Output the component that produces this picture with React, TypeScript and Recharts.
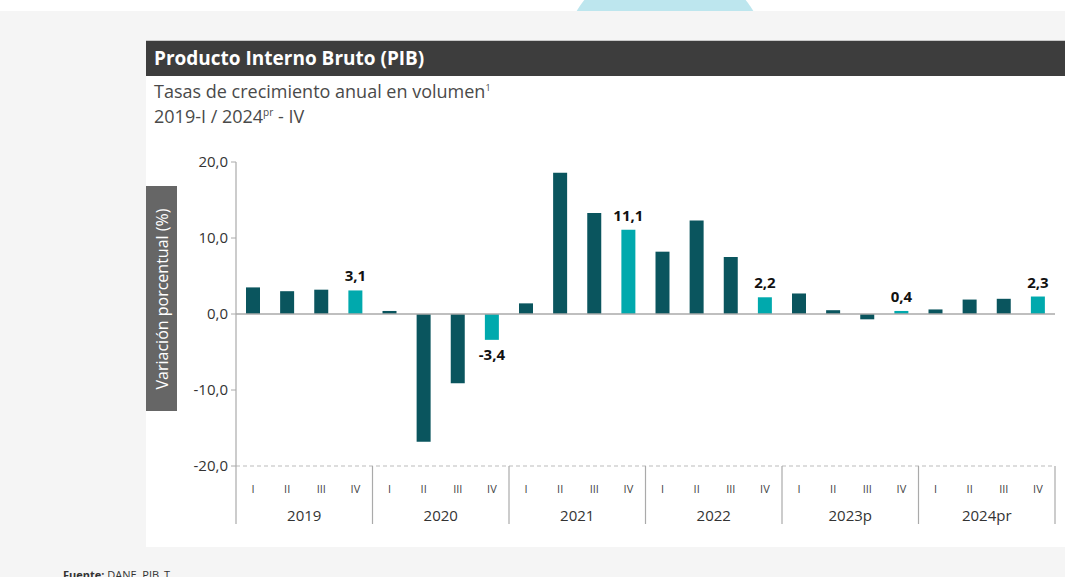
import React from "react";
import {
  BarChart,
  Bar,
  XAxis,
  YAxis,
  Cell,
  LabelList,
  ReferenceLine,
} from "recharts";

// Tasas de crecimiento anual del PIB por trimestre
const years = ["2019", "2020", "2021", "2022", "2023p", "2024pr"];
const quarters = ["I", "II", "III", "IV"];
const growth = [
  3.5, 3.0, 3.2, 3.1,
  0.4, -16.8, -9.1, -3.4,
  1.4, 18.6, 13.3, 11.1,
  8.2, 12.3, 7.5, 2.2,
  2.7, 0.5, -0.7, 0.4,
  0.6, 1.9, 2.0, 2.3,
];
const yTicks = [-20, -10, 0, 10, 20];

const DARK = "#0a555e";
const LIGHT = "#00a9ad";
const FONT = "'Open Sans', 'Noto Sans', sans-serif";

const data = growth.map((v, i) => ({
  key: years[Math.floor(i / 4)] + "-" + quarters[i % 4],
  q: quarters[i % 4],
  value: v,
  label: i % 4 === 3 ? v : null,
}));

const fmt = (v: number) => v.toFixed(1).replace(".", ",");

const supStyle: React.CSSProperties = {
  fontSize: 9,
  lineHeight: 0,
  position: "relative",
  top: -7,
  verticalAlign: "baseline",
};

function QuarterTick(props: any) {
  const { x, y, payload, index } = props;
  const off = payload?.offset ?? 17;
  const top = y - 8;
  const row = data[index];
  return (
    <g>
      <text x={x} y={top + 27} textAnchor="middle" fontSize={11} fill="#444" fontFamily={FONT}>
        {row?.q}
      </text>
      {index % 4 === 0 && (
        <>
          <line x1={x - off} x2={x - off} y1={top} y2={top + 58} stroke="#aaa" strokeWidth={1.2} />
          <text x={x + 3 * off} y={top + 55} textAnchor="middle" fontSize={15} fill="#333" fontFamily={FONT}>
            {years[index / 4]}
          </text>
        </>
      )}
      {index === data.length - 1 && (
        <line x1={x + off} x2={x + off} y1={top} y2={top + 58} stroke="#aaa" strokeWidth={1.2} />
      )}
    </g>
  );
}

function ValueLabel(props: any) {
  const { x, y, width, height, value } = props;
  if (value == null) return null;
  const top = Math.min(y, y + height);
  const bottom = Math.max(y, y + height);
  const ty = value >= 0 ? top - 9 : bottom + 20;
  return (
    <text x={x + width / 2} y={ty} textAnchor="middle" fontSize={15} fontWeight={700} fill="#111" fontFamily={FONT}>
      {fmt(value)}
    </text>
  );
}

export default function App() {
  return (
    <div
      style={{
        position: "absolute",
        left: 0,
        top: 0,
        width: 1065,
        height: 577,
        overflow: "hidden",
        background: "#f5f5f5",
        fontFamily: FONT,
      }}
    >
      <div style={{ position: "absolute", left: 0, top: 0, width: 1065, height: 11, background: "#fff", overflow: "hidden" }}>
        <div
          style={{
            position: "absolute",
            left: 562,
            top: -39,
            width: 206,
            height: 206,
            borderRadius: "50%",
            background: "#bde6ee",
          }}
        />
      </div>
      <div style={{ position: "absolute", left: 146, top: 40, width: 919, height: 1, background: "#c8c8c8" }} />
      <div
        style={{
          position: "absolute",
          left: 146,
          top: 41,
          width: 919,
          height: 35,
          background: "#3d3d3d",
          color: "#fff",
          fontWeight: 700,
          fontSize: 19,
          lineHeight: "35px",
          paddingLeft: 8,
          boxSizing: "border-box",
        }}
      >
        Producto Interno Bruto (PIB)
      </div>
      <div style={{ position: "absolute", left: 146, top: 76, width: 919, height: 471, background: "#fff" }} />
      <div style={{ position: "absolute", left: 154, top: 79, fontSize: 18, color: "#4a4a4a", lineHeight: "25px" }}>
        <div>
          Tasas de crecimiento anual en volumen<span style={supStyle}>1</span>
        </div>
        <div>
          2019-I / 2024<span style={{ ...supStyle, fontSize: 10 }}>pr</span> - IV
        </div>
      </div>
      <div
        style={{
          position: "absolute",
          left: 146,
          top: 186,
          width: 31,
          height: 225,
          background: "#666",
          color: "#fff",
          fontSize: 16,
        }}
      >
        <div
          style={{
            position: "absolute",
            left: 15.5,
            top: 112.5,
            transform: "translate(-50%, -50%) rotate(-90deg)",
            whiteSpace: "nowrap",
          }}
        >
          Variación porcentual (%)
        </div>
      </div>
      <div style={{ position: "absolute", left: 0, top: 0 }}>
        <BarChart
          width={1065}
          height={577}
          data={data}
          margin={{ top: 162, right: 10, left: 176, bottom: 81 }}
          barCategoryGap={0}
        >
          <ReferenceLine y={-20} stroke="#bbb" strokeDasharray="4 3" strokeWidth={1.2} />
          <XAxis
            dataKey="key"
            interval={0}
            axisLine={false}
            tickLine={false}
            height={30}
            tick={<QuarterTick />}
          />
          <YAxis
            domain={[-20, 20]}
            ticks={yTicks}
            width={60}
            tickFormatter={fmt}
            axisLine={{ stroke: "#aaa", strokeWidth: 1.2 }}
            tickLine={{ stroke: "#aaa" }}
            tickSize={5}
            tickMargin={3}
            tick={{ fontSize: 15, fill: "#333", fontFamily: FONT }}
          />
          <ReferenceLine y={0} stroke="#aaa" strokeWidth={1.5} />
          <Bar dataKey="value" barSize={14} isAnimationActive={false}>
            {data.map((d, i) => (
              <Cell key={d.key} fill={i % 4 === 3 ? LIGHT : DARK} />
            ))}
            <LabelList dataKey="label" content={<ValueLabel />} />
          </Bar>
        </BarChart>
      </div>
      <div style={{ position: "absolute", left: 63, top: 567, fontSize: 11, color: "#333" }}>
        <b>Fuente:</b> DANE, PIB_T
      </div>
    </div>
  );
}
